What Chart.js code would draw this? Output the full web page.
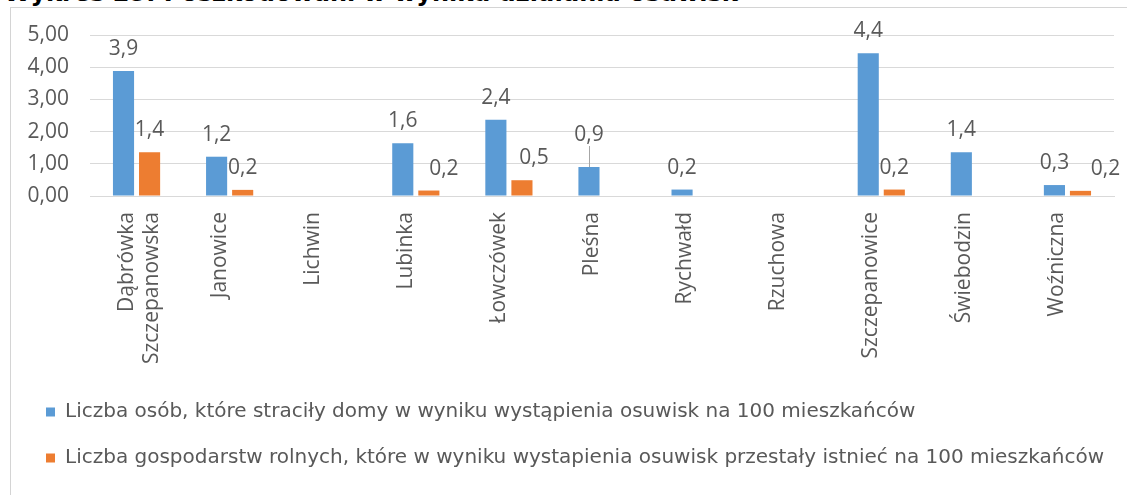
<!DOCTYPE html>
<html><head><meta charset="utf-8">
<script src="https://cdn.jsdelivr.net/npm/chart.js@4.4.0/dist/chart.umd.min.js"></script>
<style>
html,body{margin:0;padding:0;width:1127px;height:495px;overflow:hidden;background:#fff;}
#title{position:absolute;left:4px;top:-21px;font:bold 24px "DejaVu Sans",sans-serif;color:#000;white-space:nowrap;}
#frame{position:absolute;left:10px;top:7px;width:1300px;height:700px;border:1px solid #d4d4d4;background:#fff;}
#c{position:absolute;left:0;top:0;}
</style></head>
<body>
<div id="title">Wykres 25. Poszkodowani w wyniku działania osuwisk</div>
<div id="frame"></div>
<canvas id="c" width="1127" height="495"></canvas>
<script>
const categories = [["Dąbrówka","Szczepanowska"],"Janowice","Lichwin","Lubinka","Łowczówek","Pleśna","Rychwałd","Rzuchowa","Szczepanowice","Świebodzin","Woźniczna"];
const seriesNames = ["Liczba osób, które straciły domy w wyniku wystąpienia osuwisk na 100 mieszkańców","Liczba gospodarstw rolnych, które w wyniku wystapienia osuwisk przestały istnieć na 100 mieszkańców"];
const housesLost = [3.88, 1.22, null, 1.64, 2.37, 0.9, 0.2, null, 4.43, 1.36, 0.34];
const farmsGone = [1.36, 0.19, null, 0.17, 0.49, null, null, null, 0.2, null, 0.16];
const yTicks = [0, 1, 2, 3, 4, 5];

const FONT = "'Open Sans', sans-serif";
const TXT = '#595959';

// label placement tweaks (dataset-index keys), as in the original layout
const labelNudges = {'1-3': {dx: 15}, '1-4': {dx: 12}, '1-10': {dx: 25}, '0-5': {dy: -10, leader: true}};

const labelPlugin = {
  id: 'vlabels',
  afterDatasetsDraw(chart) {
    const ctx = chart.ctx;
    ctx.save();
    ctx.font = "21px " + FONT;
    ctx.fillStyle = TXT;
    ctx.textAlign = 'center';
    ctx.textBaseline = 'alphabetic';
    chart.data.datasets.forEach((ds, di) => {
      const meta = chart.getDatasetMeta(di);
      meta.data.forEach((bar, i) => {
        const v = ds.data[i];
        if (v === null || v === undefined) return;
        const n = labelNudges[di + '-' + i] || {};
        const txt = v.toFixed(1).replace('.', ',');
        const x = bar.x + (n.dx || 0);
        const y = bar.y - 16 + (n.dy || 0);
        ctx.fillText(txt, x, y);
        if (n.leader) {
          ctx.strokeStyle = '#a6a6a6';
          ctx.lineWidth = 1;
          ctx.beginPath();
          ctx.moveTo(Math.round(bar.x) + 0.5, y + 5);
          ctx.lineTo(Math.round(bar.x) + 0.5, bar.y);
          ctx.stroke();
        }
      });
    });
    ctx.restore();
  }
};

new Chart(document.getElementById('c'), {
  type: 'bar',
  data: {
    labels: categories,
    datasets: [
      {label: seriesNames[0], data: housesLost, backgroundColor: '#5B9BD5', categoryPercentage: 0.56, barPercentage: 0.81},
      {label: seriesNames[1], data: farmsGone, backgroundColor: '#ED7D31', categoryPercentage: 0.56, barPercentage: 0.81}
    ]
  },
  options: {
    responsive: false,
    animation: false,
    layout: {padding: {top: 35, left: 20, right: 13, bottom: 17}},
    plugins: {
      tooltip: {enabled: false},
      legend: {
        position: 'bottom',
        align: 'start',
        labels: {boxWidth: 9, boxHeight: 9, padding: 26, color: TXT, font: {family: "'DejaVu Sans', sans-serif", size: 20}}
      }
    },
    scales: {
      x: {
        grid: {display: false, drawTicks: false},
        border: {color: '#d9d9d9'},
        ticks: {minRotation: 90, maxRotation: 90, autoSkip: false, padding: 16, labelOffset: -10, color: TXT, font: {family: FONT, size: 21}},
        afterFit(s) { s.height = 180; }
      },
      y: {
        min: 0, max: 5,
        afterBuildTicks(s) { s.ticks = yTicks.map(v => ({value: v})); },
        grid: {color: '#d9d9d9', drawTicks: false},
        border: {display: false},
        ticks: {padding: 21, color: TXT, font: {family: FONT, size: 21}, callback: v => v.toFixed(2).replace('.', ',')},
        afterFit(s) { s.width = 70; }
      }
    }
  },
  plugins: [labelPlugin]
});
</script>
</body></html>
